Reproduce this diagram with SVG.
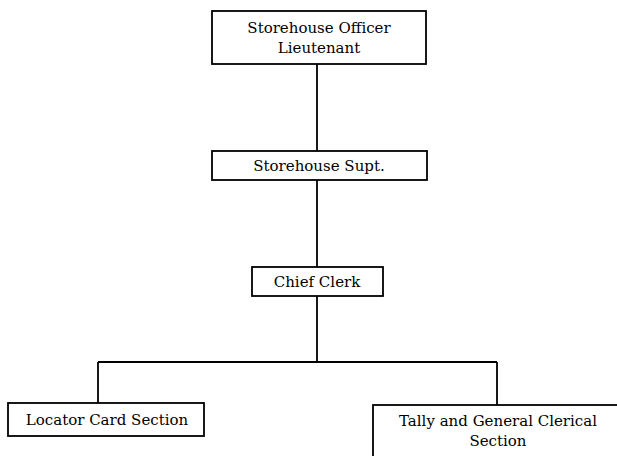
<svg xmlns="http://www.w3.org/2000/svg" width="617" height="456" viewBox="0 0 617 456">
<style>
.box{fill:#fff;stroke:#000;stroke-width:1.8}
.lbl{font-family:"DejaVu Serif","Liberation Serif",serif;font-size:15px;fill:#000;text-anchor:middle}
.conn{fill:none;stroke:#000;stroke-width:1.8}
</style>
<rect width="617" height="456" fill="#fff"/>
<g id="connectors">
<path class="conn" d="M317 64V151M317 180V267M317 296V362M98 362H497M98 362V403M497 362V405"/>
</g>
<g id="officer">
<rect class="box" x="212" y="11" width="214" height="53"/>
<text class="lbl" x="319" y="33">Storehouse Officer</text>
<text class="lbl" x="319" y="53">Lieutenant</text>
</g>
<g id="supt">
<rect class="box" x="212" y="151" width="215" height="29"/>
<text class="lbl" x="319" y="171">Storehouse Supt.</text>
</g>
<g id="chief">
<rect class="box" x="252" y="267" width="131" height="29"/>
<text class="lbl" x="317" y="287">Chief Clerk</text>
</g>
<g id="locator">
<rect class="box" x="8" y="403" width="196" height="33"/>
<text class="lbl" x="107" y="425">Locator Card Section</text>
</g>
<g id="tally">
<rect class="box" x="373" y="405" width="260" height="60"/>
<text class="lbl" x="498" y="426">Tally and General Clerical</text>
<text class="lbl" x="498" y="446">Section</text>
</g>
</svg>
